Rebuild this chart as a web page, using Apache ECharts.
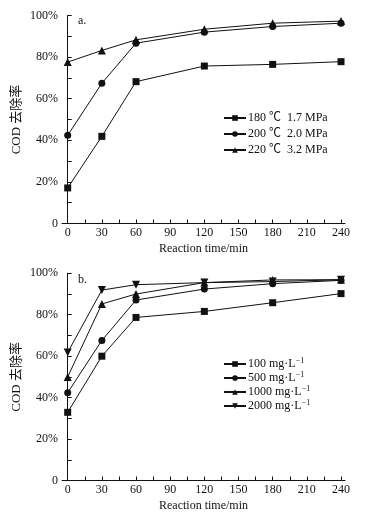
<!DOCTYPE html>
<html><head><meta charset="utf-8">
<script src="https://cdn.jsdelivr.net/npm/echarts@6/dist/echarts.min.js"></script>
<style>html,body{margin:0;padding:0;background:#fff}#c{width:388px;height:523px}</style>
</head><body><div id="c"></div>
<script>
const times = [0, 30, 60, 120, 180, 240];
const xTicks = [0,15,30,45,60,75,90,105,120,135,150,165,180,195,210,225,240];
const xLabels = [0,30,60,90,120,150,180,210,240];
const yTicks = [0,10,20,30,40,50,60,70,80,90,100];
const yLabels = [0,20,40,60,80,100];

const namesA = ['180 ℃  1.7 MPa', '200 ℃  2.0 MPa', '220 ℃  3.2 MPa'];
const a180 = [17.1, 41.9, 68.2, 75.7, 76.5, 77.8];
const a200 = [42.4, 67.4, 86.7, 92.0, 94.7, 96.3];
const a220 = [77.6, 83.2, 88.3, 93.4, 96.3, 97.3];

const namesB = ['100 mg·L', '500 mg·L', '1000 mg·L', '2000 mg·L'];
const b100 = [32.9, 60.0, 78.7, 81.6, 85.8, 90.2];
const b500 = [42.4, 67.6, 87.1, 92.4, 95.0, 96.6];
const b1000 = [50.0, 85.2, 90.0, 95.5, 96.8, 96.9];
const b2000 = [61.8, 91.9, 94.5, 95.5, 96.0, 96.9];

const FONT = '"Liberation Serif", "Noto Sans CJK SC", serif';
const FS = 12;
const chart = echarts.init(document.getElementById('c'), null, {renderer: 'canvas'});

function xAxis(gi) {
  return {
    type: 'value', gridIndex: gi, min: -5, max: 243.5,
    name: 'Reaction time/min', nameLocation: 'middle', nameGap: 19, nameMoveOverlap: false,
    nameTextStyle: {fontFamily: FONT, fontSize: FS, color: '#111'},
    axisLine: {show: true, lineStyle: {color: '#111', width: 1}},
    axisTick: {show: true, inside: true, length: 4, customValues: xTicks, lineStyle: {color: '#111'}},
    axisLabel: {customValues: xLabels, margin: 3, fontFamily: FONT, fontSize: FS, color: '#111'},
    splitLine: {show: false}
  };
}
function yAxis(gi) {
  return {
    type: 'value', gridIndex: gi, min: 0, max: 100,
    name: 'COD 去除率', nameLocation: 'middle', nameGap: 39, nameMoveOverlap: false,
    nameTextStyle: {fontFamily: FONT, fontSize: 13, color: '#111'},
    axisLine: {show: true, lineStyle: {color: '#111', width: 1}},
    axisTick: {show: true, inside: true, length: 4, customValues: yTicks, lineStyle: {color: '#111'}},
    axisLabel: {customValues: yLabels, margin: 4, fontFamily: FONT, fontSize: FS, color: '#111',
      formatter: v => v === 0 ? '0' : v + '%'},
    splitLine: {show: false}
  };
}
const syms = ['rect', 'circle', 'triangle', 'triangle'];
const rots = [0, 0, 0, 180];
const sizes = [7, 7, 8, 8];
function mk(name, data, idx, gi) {
  return {
    type: 'line', name: name, xAxisIndex: gi, yAxisIndex: gi,
    data: times.map((t, i) => [t, data[i]]),
    symbol: syms[idx], symbolRotate: rots[idx], symbolSize: sizes[idx],
    lineStyle: {color: '#111', width: 1}, itemStyle: {color: '#111'},
    animation: false
  };
}

chart.setOption({
  backgroundColor: '#fff',
  animation: false,
  grid: [
    {left: 62, right: 43, top: 15.5, height: 208},
    {left: 62, right: 43, top: 273.3, height: 207.2}
  ],
  xAxis: [xAxis(0), xAxis(1)],
  yAxis: [yAxis(0), yAxis(1)],
  legend: [
    {data: namesA, orient: 'vertical', left: 223, top: 112, padding: 0, itemWidth: 22, itemHeight: 7, itemGap: 4,
     textStyle: {fontFamily: FONT, fontSize: FS, color: '#111', padding: [0,0,0,-3]}},
    {data: namesB, orient: 'vertical', left: 223, top: 357, padding: 0, itemWidth: 22, itemHeight: 7, itemGap: 1,
     formatter: n => n + '{sup|−1}',
     textStyle: {fontFamily: FONT, fontSize: FS, color: '#111', padding: [0,0,0,-3],
       rich: {sup: {fontFamily: FONT, fontSize: 8, color: '#111', padding: [0,0,6,0]}}}}
  ],
  graphic: [
    {type: 'text', left: 78, top: 15, style: {text: 'a.', font: '12px ' + FONT, fill: '#111'}},
    {type: 'text', left: 78, top: 274, style: {text: 'b.', font: '12px ' + FONT, fill: '#111'}}
  ],
  series: [
    mk(namesA[0], a180, 0, 0), mk(namesA[1], a200, 1, 0), mk(namesA[2], a220, 2, 0),
    mk(namesB[0], b100, 0, 1), mk(namesB[1], b500, 1, 1), mk(namesB[2], b1000, 2, 1), mk(namesB[3], b2000, 3, 1)
  ]
});
</script></body></html>
